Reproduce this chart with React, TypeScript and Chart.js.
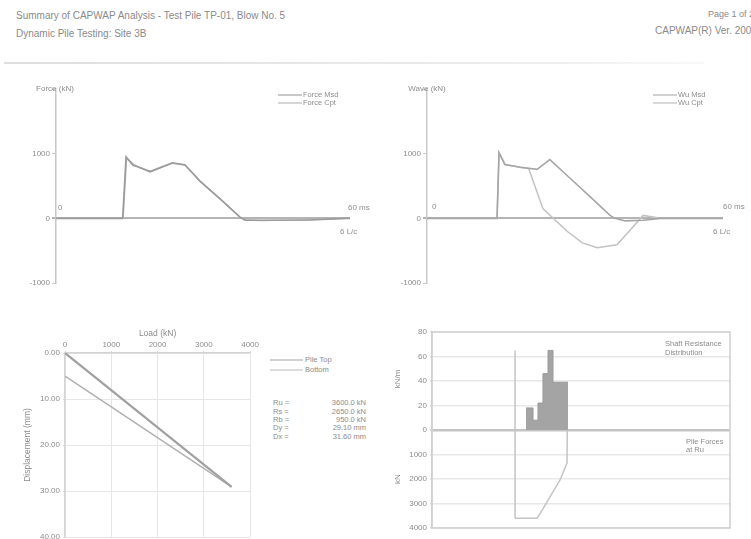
import React, { useEffect, useRef } from "react";
import { Chart, registerables } from "chart.js";
Chart.register(...registerables);

const FONT = "'Liberation Sans', Arial, sans-serif";
const TXT = "#8c8c8c";

// ---- Top-left: force records (time in ms, force in kN)
const forceMsdTime = [0, 13.6, 14.3, 15.7, 17.0, 19.2, 21.2, 23.7, 26.3, 29.4, 33.5, 37.6, 38.6, 41.6, 51.8, 59.0, 60];
const forceMsd = [0, 0, 950, 820, 790, 720, 780, 860, 830, 575, 300, 15, -30, -30, -25, 0, 0];
const forceCptTime = [0, 13.7, 14.4, 15.8, 17.1, 19.3, 21.3, 23.8, 26.4, 29.5, 33.6, 37.7, 38.8, 41.8, 52.0, 59.0, 60];
const forceCpt = [0, 0, 930, 840, 780, 730, 790, 850, 820, 560, 290, 10, -25, -35, -20, 0, 0];

// ---- Top-right: wave records
const waveATime = [0, 14.2, 14.6, 15.8, 18.9, 22.3, 24.9, 29.0, 33.1, 37.1, 38.1, 40.2, 43.8, 47.3, 60];
const waveA = [0, 0, 1015, 833, 790, 758, 909, 620, 333, 45, 0, -40, -30, 0, 0];
const waveBTime = [0, 14.2, 14.6, 15.8, 18.9, 20.6, 23.5, 28.4, 31.5, 34.5, 38.5, 41.2, 43.8, 47.3, 60];
const waveB = [0, 0, 1015, 833, 790, 770, 150, -200, -380, -455, -410, -180, 45, 0, 0];

// ---- Bottom-left: simulated static load test
const loadTop = [0, 3600];
const dispTop = [0, 29.1];
const loadBottom = [0, 3600];
const dispBottom = [5.0, 29.1];
const resultLabels = ["Ru =", "Rs =", "Rb =", "Dy =", "Dx ="];
const resultValues = ["3600.0 kN", "2650.0 kN", "950.0 kN", "29.10 mm", "31.60 mm"];

// ---- Bottom-right: shaft resistance distribution (kN/m) and pile forces (kN)
const shaftDepth = [9.46, 10.17, 10.67, 11.17, 11.68, 12.18, 13.69];
const shaftRes = [18, 8, 22, 46, 65, 39, 39];
const forceDepth = [8.36, 10.57, 11.17, 11.88, 12.89, 13.59, 13.62];
const pileForce = [3600, 3600, 3220, 2730, 2040, 1350, 0];
const pileLineDepth = [8.36, 8.36];
const pileLineVal = [65, -3600];

const RES_UNIT = 20; // kN/m per axis unit (upper half)
const FORCE_UNIT = 1000; // kN per axis unit (lower half)

const pts = (xs: number[], ys: number[]) => xs.map((x, i) => ({ x, y: ys[i] }));

const framePlugin = {
  id: "frame",
  afterDraw(chart: any) {
    const { ctx, chartArea: a } = chart;
    ctx.save();
    ctx.strokeStyle = "#cfcfcf";
    ctx.lineWidth = 1.5;
    ctx.strokeRect(a.left, a.top, a.right - a.left, a.bottom - a.top);
    ctx.restore();
  },
};

function ChartBox({ left, top, width, height, make }: any) {
  const ref = useRef<HTMLCanvasElement>(null);
  useEffect(() => {
    const c = new Chart(ref.current as HTMLCanvasElement, make());
    return () => c.destroy();
  }, []);
  return (
    <canvas
      ref={ref}
      width={width}
      height={height}
      style={{ position: "absolute", left, top, width, height }}
    />
  );
}

function T({ x, y, children, size = 8, color = TXT, align, w }: any) {
  const style: any = {
    position: "absolute",
    top: y,
    fontSize: size,
    color,
    fontFamily: FONT,
    whiteSpace: "nowrap",
    lineHeight: 1,
  };
  if (align === "right") {
    style.left = x - (w || 60);
    style.width = w || 60;
    style.textAlign = "right";
  } else if (align === "center") {
    style.left = x - (w || 60) / 2;
    style.width = w || 60;
    style.textAlign = "center";
  } else {
    style.left = x;
  }
  return <div style={style}>{children}</div>;
}

function Line({ x1, x2, y, color = "#c4c4c4", h = 1.5 }: any) {
  return <div style={{ position: "absolute", left: x1, top: y - h / 2, width: x2 - x1, height: h, background: color }} />;
}

const tickFont = { family: FONT, size: 8 };

function timeChart(datasets: any[], yw: number, padRight: number) {
  return {
    type: "scatter",
    data: { datasets },
    options: {
      animation: false,
      responsive: false,
      events: [],
      layout: { padding: { top: 9, right: padRight, bottom: 12, left: 0 } },
      plugins: { legend: { display: false }, tooltip: { enabled: false } },
      scales: {
        x: { type: "linear", min: 0, max: 60, display: false },
        y: {
          type: "linear",
          min: -1000,
          max: 2000,
          afterFit: (s: any) => {
            s.width = yw;
          },
          ticks: {
            stepSize: 1000,
            color: TXT,
            font: tickFont,
            padding: 2,
            callback: (v: any) => (v === 2000 ? "" : String(v)),
          },
          grid: {
            drawOnChartArea: true,
            tickLength: 4,
            tickColor: (c: any) => (c.tick && c.tick.value === 0 ? "#b4b4b4" : "#c8c8c8"),
            color: (c: any) => (c.tick && c.tick.value === 0 ? "#b4b4b4" : "rgba(0,0,0,0)"),
            lineWidth: (c: any) => (c.tick && c.tick.value === 0 ? 2 : 1),
          },
          border: { display: true, color: "#c8c8c8", width: 1.5 },
        },
      },
    },
  };
}

const lineDs = (label: string, data: any[], color: string, width = 1.5) => ({
  label,
  data,
  showLine: true,
  borderColor: color,
  borderWidth: width,
  pointRadius: 0,
  fill: false,
  tension: 0,
});

export default function App() {
  return (
    <div style={{ position: "fixed", left: 0, top: 0, width: 751, height: 539, overflow: "hidden", background: "#fff" }}>
      {/* header */}
      <T x={16} y={11} size={10} color="#8a8a8a">Summary of CAPWAP Analysis - Test Pile TP-01, Blow No. 5</T>
      <T x={16} y={29} size={10} color="#8a8a8a">Dynamic Pile Testing: Site 3B</T>
      <T x={708} y={10} size={9} color="#8a8a8a">Page 1 of 2</T>
      <T x={655} y={26} size={10} color="#8a8a8a">CAPWAP(R) Ver. 2006.1</T>
      <div style={{ position: "absolute", left: 4, top: 62, width: 700, height: 2, background: "linear-gradient(to right, #dedede, #ececec 70%, #f8f8f8)" }} />

      {/* top-left chart */}
      <ChartBox
        left={20}
        top={80}
        width={360}
        height={215}
        make={() =>
          timeChart(
            [
              lineDs("Force Msd", pts(forceMsdTime, forceMsd), "#9a9a9a", 1.6),
              lineDs("Force Cpt", pts(forceCptTime, forceCpt), "#b8b8b8", 1.4),
            ],
            36,
            30
          )
        }
      />
      <T x={55} y={85} align="center" w={50}>Force (kN)</T>
      <T x={58} y={204}>0</T>
      <T x={348} y={204}>60 ms</T>
      <T x={340} y={228}>6 L/c</T>
      <Line x1={278} x2={302} y={95} color="#c8c8c8" />
      <Line x1={278} x2={302} y={103} color="#d6d6d6" />
      <T x={303} y={91} size={7.5}>Force Msd</T>
      <T x={303} y={99} size={7.5}>Force Cpt</T>

      {/* top-right chart */}
      <ChartBox
        left={391}
        top={80}
        width={360}
        height={215}
        make={() =>
          timeChart(
            [
              lineDs("WU Msd", pts(waveATime, waveA), "#a6a6a6", 1.6),
              lineDs("WU Cpt", pts(waveBTime, waveB), "#c2c2c2", 1.5),
            ],
            36,
            28
          )
        }
      />
      <T x={427} y={85} align="center" w={50}>Wave (kN)</T>
      <T x={432} y={203}>0</T>
      <T x={723} y={203}>60 ms</T>
      <T x={713} y={228}>6 L/c</T>
      <Line x1={653} x2={677} y={95} color="#d0d0d0" />
      <Line x1={653} x2={677} y={103} color="#d8d8d8" />
      <T x={678} y={91} size={7.5}>Wu Msd</T>
      <T x={678} y={99} size={7.5}>Wu Cpt</T>

      {/* bottom-left chart */}
      <ChartBox
        left={15}
        top={322}
        width={245}
        height={230}
        make={() => ({
          type: "scatter",
          data: {
            datasets: [
              lineDs("Pile Top", pts(loadTop, dispTop), "#a0a0a0", 2.2),
              lineDs("Bottom", pts(loadBottom, dispBottom), "#b0b0b0", 1.5),
            ],
          },
          options: {
            animation: false,
            responsive: false,
            events: [],
            layout: { padding: { top: 0, right: 9, bottom: 15, left: 0 } },
            plugins: { legend: { display: false }, tooltip: { enabled: false } },
            scales: {
              x: {
                type: "linear",
                position: "top",
                min: 0,
                max: 4000,
                afterFit: (s: any) => {
                  s.height = 31;
                },
                title: { display: true, text: "Load (kN)", color: TXT, font: { family: FONT, size: 8.5 }, padding: { top: 7, bottom: 2 } },
                ticks: { stepSize: 1000, color: TXT, font: tickFont, padding: 1, maxRotation: 0, callback: (v: any) => String(v) },
                grid: { color: "#e6e6e6", tickLength: 2, tickColor: "#d8d8d8" },
                border: { display: true, color: "#d4d4d4", width: 1.5 },
              },
              y: {
                type: "linear",
                reverse: true,
                min: 0,
                max: 40,
                afterFit: (s: any) => {
                  s.width = 50;
                },
                title: { display: true, text: "Displacement (mm)", color: TXT, font: { family: FONT, size: 8.5 }, padding: { top: 8, bottom: 0 } },
                ticks: { stepSize: 10, color: TXT, font: tickFont, padding: 3, callback: (v: any) => Number(v).toFixed(2) },
                grid: { color: "#e6e6e6", tickLength: 2, tickColor: "#d8d8d8" },
                border: { display: true, color: "#d4d4d4", width: 1.5 },
              },
            },
          },
        })}
      />
      <Line x1={270} x2={303} y={360} color="#d0d0d0" />
      <Line x1={270} x2={303} y={370} color="#dcdcdc" />
      <T x={305} y={356} size={7.5}>Pile Top</T>
      <T x={305} y={366} size={7.5}>Bottom</T>
      {resultLabels.map((l, i) => (
        <T key={"l" + i} x={273} y={[399, 408, 416, 424, 433][i]} size={7.5}>{l}</T>
      ))}
      {resultValues.map((v, i) => (
        <T key={"v" + i} x={366} y={[399, 408, 416, 424, 433][i]} size={7.5} align="right" w={50}>{v}</T>
      ))}

      {/* bottom-right chart */}
      <ChartBox
        left={391}
        top={322}
        width={345}
        height={217}
        make={() => ({
          type: "scatter",
          data: {
            datasets: [
              {
                label: "Shaft Resistance Distribution",
                data: pts(shaftDepth, shaftRes.map((v) => v / RES_UNIT)),
                showLine: true,
                stepped: "before",
                fill: "origin",
                backgroundColor: "#a4a4a4",
                borderColor: "#9a9a9a",
                borderWidth: 1,
                pointRadius: 0,
              },
              lineDs("Pile Forces at Ru", pts(forceDepth, pileForce.map((v) => -v / FORCE_UNIT)), "#c4c4c4", 1.5),
              lineDs(
                "Pile",
                pts(pileLineDepth, pileLineVal.map((v) => (v > 0 ? v / RES_UNIT : v / FORCE_UNIT))),
                "#c4c4c4",
                1.5
              ),
            ],
          },
          options: {
            animation: false,
            responsive: false,
            events: [],
            layout: { padding: { top: 10, right: 6, bottom: 11, left: 0 } },
            plugins: { legend: { display: false }, tooltip: { enabled: false } },
            scales: {
              x: { type: "linear", min: 0, max: 30, display: false },
              y: {
                type: "linear",
                min: -4,
                max: 4,
                afterFit: (s: any) => {
                  s.width = 41;
                },
                ticks: {
                  stepSize: 1,
                  color: TXT,
                  font: tickFont,
                  padding: 3,
                  callback: (v: any) => (v > 0 ? String(v * RES_UNIT) : v < 0 ? String(-v * FORCE_UNIT) : "0"),
                },
                grid: {
                  tickLength: 2,
                  tickColor: "#d8d8d8",
                  color: (c: any) => (c.tick && c.tick.value === 0 ? "#c4c4c4" : "#e8e8e8"),
                  lineWidth: (c: any) => (c.tick && c.tick.value === 0 ? 2.5 : 1.5),
                },
                border: { display: true, color: "#d0d0d0", width: 1.5 },
              },
            },
          },
          plugins: [framePlugin],
        })}
      />
      <div style={{ position: "absolute", left: 398 - 20, top: 379 - 4, width: 40, textAlign: "center", transform: "rotate(-90deg)", fontSize: 8, fontFamily: FONT, color: TXT, lineHeight: 1 }}>kN/m</div>
      <div style={{ position: "absolute", left: 398 - 20, top: 479 - 4, width: 40, textAlign: "center", transform: "rotate(-90deg)", fontSize: 8, fontFamily: FONT, color: TXT, lineHeight: 1 }}>kN</div>
      <T x={665} y={340} size={7.5}>Shaft Resistance</T>
      <T x={665} y={349} size={7.5}>Distribution</T>
      <T x={686} y={438} size={7.5}>Pile Forces</T>
      <T x={686} y={446} size={7.5}>at Ru</T>
    </div>
  );
}
